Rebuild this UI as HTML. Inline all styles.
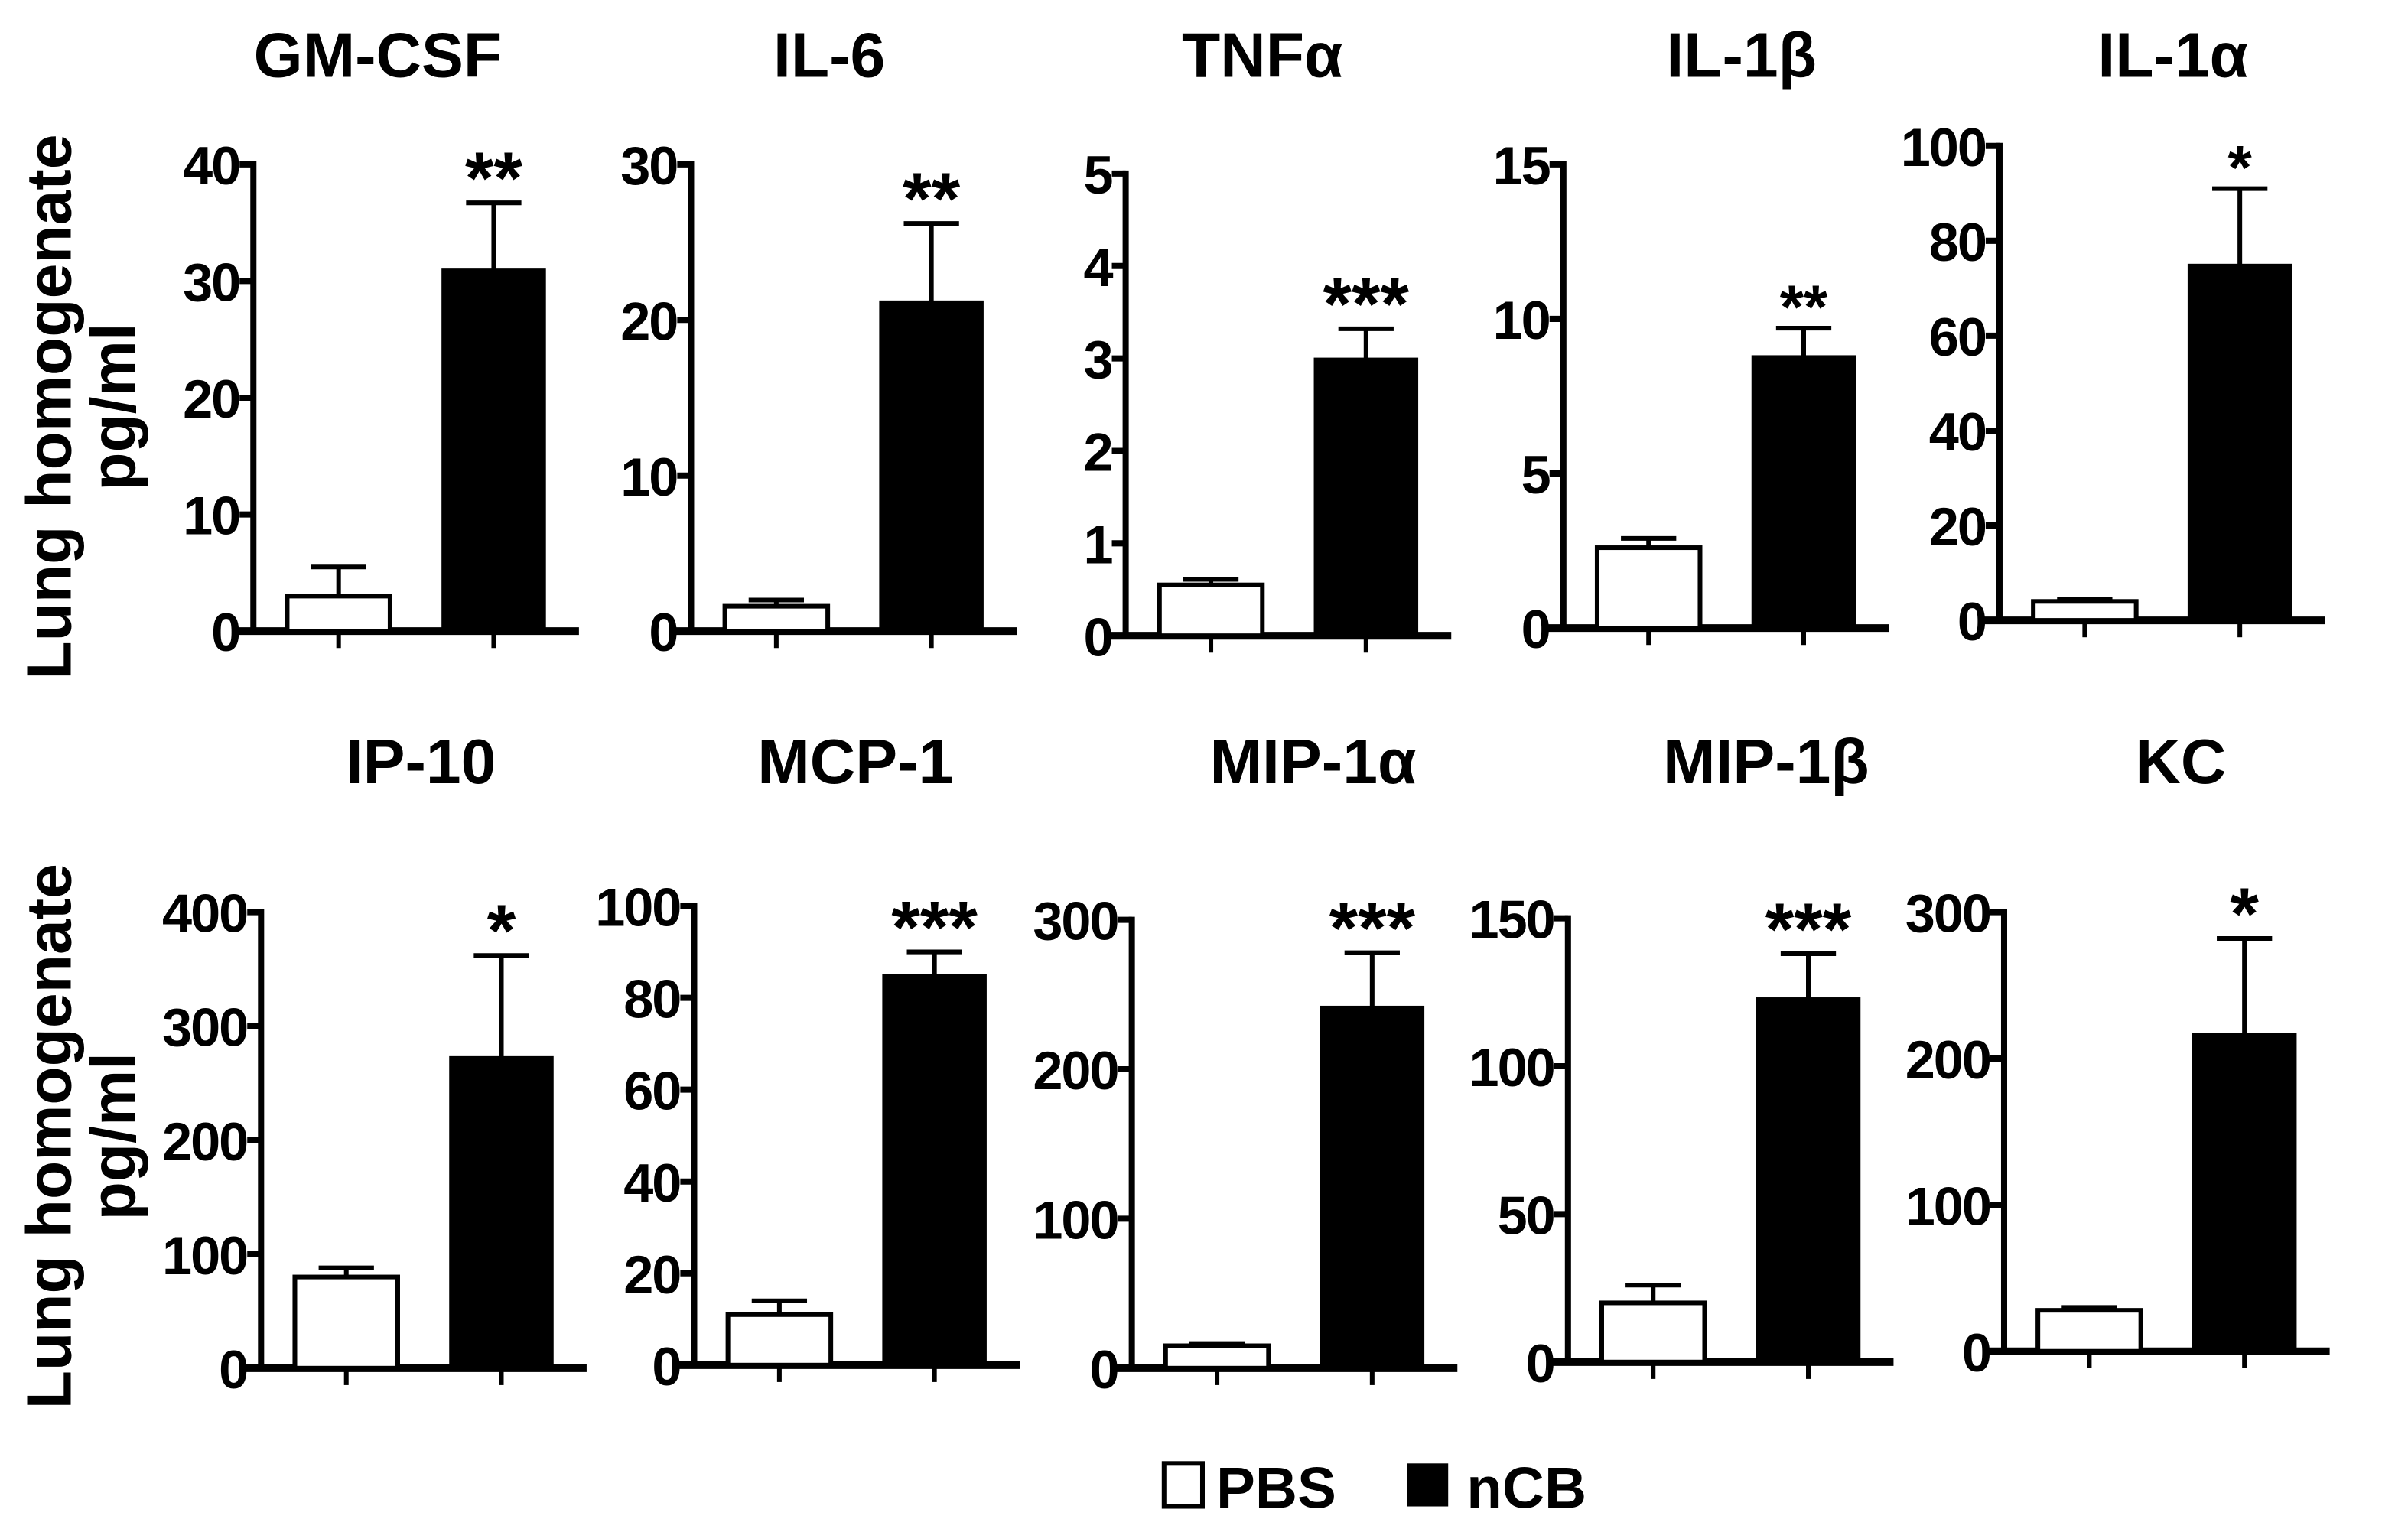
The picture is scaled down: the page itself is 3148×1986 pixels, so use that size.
<!DOCTYPE html>
<html><head><meta charset="utf-8">
<style>
html,body{margin:0;padding:0;background:#fff;}
svg{display:block;}
text{font-family:"Liberation Sans",Arial,sans-serif;font-weight:bold;fill:#000;}
</style></head>
<body>
<svg id="fig" width="3148" height="1986" viewBox="0 0 1568 989.2" xmlns="http://www.w3.org/2000/svg">
<g id="plots"></g>
<g>
<text x="0" y="0" transform="translate(46,265) rotate(-90)" font-size="41" text-anchor="middle">Lung homogenate</text>
<text x="0" y="0" transform="translate(88,265) rotate(-90)" font-size="41" text-anchor="middle">pg/ml</text>
</g>
<g>
<text x="0" y="0" transform="translate(46,740) rotate(-90)" font-size="41" text-anchor="middle">Lung homogenate</text>
<text x="0" y="0" transform="translate(88,740) rotate(-90)" font-size="41" text-anchor="middle">pg/ml</text>
</g>
<g>
<rect x="758" y="953" width="25" height="28" fill="#fff" stroke="#000" stroke-width="3"/>
<text x="792" y="982" font-size="38">PBS</text>
<rect x="916" y="953" width="27" height="28" fill="#000"/>
<text x="955" y="982" font-size="38">nCB</text>
</g>
</svg>
<script>
const categories = ["GM-CSF","IL-6","TNFα","IL-1β","IL-1α","IP-10","MCP-1","MIP-1α","MIP-1β","KC"];
const pbsValues = [3, 1.6, 0.55, 2.6, 4, 80, 11, 15, 20, 28];
const pbsErrors = [2.5, 0.4, 0.06, 0.3, 0.5, 8, 3, 1.5, 6, 2];
const ncbValues = [31, 21.2, 3.0, 8.8, 75, 273, 85, 242, 123, 217];
const ncbErrors = [5.7, 5.0, 0.32, 0.9, 16, 89, 5, 36, 15, 65];
const yMaxes = [40, 30, 5, 15, 100, 400, 100, 300, 150, 300];
const tickSteps = [10, 10, 1, 5, 20, 100, 20, 100, 50, 100];
const stars = ["**","**","***","**","*","*","***","***","***","*"];

// layout (pixel geometry, not data)
const layout = [
 {ax:165,top:107,zero:411,ty:50,tx:246,ss:48},
 {ax:450,top:107,zero:411,ty:50,tx:540,ss:48},
 {ax:733,top:113,zero:414,ty:50,tx:822,ss:48},
 {ax:1018,top:107,zero:409,ty:50,tx:1134,ss:40},
 {ax:1302,top:95,zero:404,ty:50,tx:1415,ss:40},
 {ax:170,top:594,zero:891,ty:510,tx:274,ss:48},
 {ax:452,top:590,zero:889,ty:510,tx:557,ss:48},
 {ax:737,top:599,zero:891,ty:510,tx:855,ss:48},
 {ax:1021,top:598,zero:887,ty:510,tx:1150,ss:48},
 {ax:1305,top:594,zero:880,ty:510,tx:1420,ss:48}
];
const NS = "http://www.w3.org/2000/svg";
const root = document.getElementById("plots");
function mk(tag, attrs, parent){
  const e = document.createElementNS(NS, tag);
  for (const k in attrs) e.setAttribute(k, attrs[k]);
  parent.appendChild(e);
  return e;
}
categories.forEach((cat, i) => {
  const L = layout[i];
  const g = mk("g", {}, root);
  
  
  const y = v => L.zero - (v / yMaxes[i]) * (L.zero - L.top);
  const ax = L.ax;
  const pbsX = ax + 22, ncbX = ax + 123, bw = 67;
  const t = mk("text", {x: L.tx, y: L.ty, "font-size": 41, "text-anchor": "middle"}, g);
  t.textContent = cat;
  
  
  const ya = mk("line", {x1: ax, y1: L.top - 2, x2: ax, y2: L.zero, stroke: "#000", "stroke-width": 4}, g);
  
  
  for (let v = 0; v <= yMaxes[i] + 1e-9; v += tickSteps[i]) {
    const tk = mk("line", {x1: ax - 9, y1: y(v), x2: ax, y2: y(v), stroke: "#000", "stroke-width": 4}, g);
    
    
    const tl = mk("text", {x: ax - 9, y: y(v) + 13, "font-size": 35, "text-anchor": "end", "letter-spacing": "-1"}, g);
    tl.textContent = String(Math.round(v * 100) / 100);
    
    
  }
  const xa = mk("line", {x1: ax - 10, y1: L.zero, x2: ax + 212, y2: L.zero, stroke: "#000", "stroke-width": 5}, g);
  
  
  [pbsX + bw / 2, ncbX + bw / 2].forEach(cx => {
    const xt = mk("line", {x1: cx, y1: L.zero, x2: cx, y2: L.zero + 11, stroke: "#000", "stroke-width": 3}, g);
    
    
  });
  const pe = y(pbsValues[i] + pbsErrors[i]);
  const eb1 = mk("path", {d: `M${pbsX+bw/2},${y(pbsValues[i])}V${pe}M${pbsX+bw/2-18},${pe}H${pbsX+bw/2+18}`, stroke: "#000", "stroke-width": 3, fill: "none"}, g);
  
  
  const ne = y(ncbValues[i] + ncbErrors[i]);
  const eb2 = mk("path", {d: `M${ncbX+bw/2},${y(ncbValues[i])}V${ne}M${ncbX+bw/2-18},${ne}H${ncbX+bw/2+18}`, stroke: "#000", "stroke-width": 3, fill: "none"}, g);
  
  
  const b1 = mk("rect", {x: pbsX, y: y(pbsValues[i]), width: bw, height: L.zero - y(pbsValues[i]), fill: "#fff", stroke: "#000", "stroke-width": 3}, g);
  
  
  const b2 = mk("rect", {x: ncbX, y: y(ncbValues[i]), width: bw, height: L.zero - y(ncbValues[i]), fill: "#000", stroke: "#000", "stroke-width": 1}, g);
  
  
  const st = mk("text", {x: ncbX + bw / 2, y: ne + L.ss * 0.05 - 2, "font-size": L.ss, "text-anchor": "middle"}, g);
  st.textContent = stars[i];
  
  
});
</script>
</body></html>
